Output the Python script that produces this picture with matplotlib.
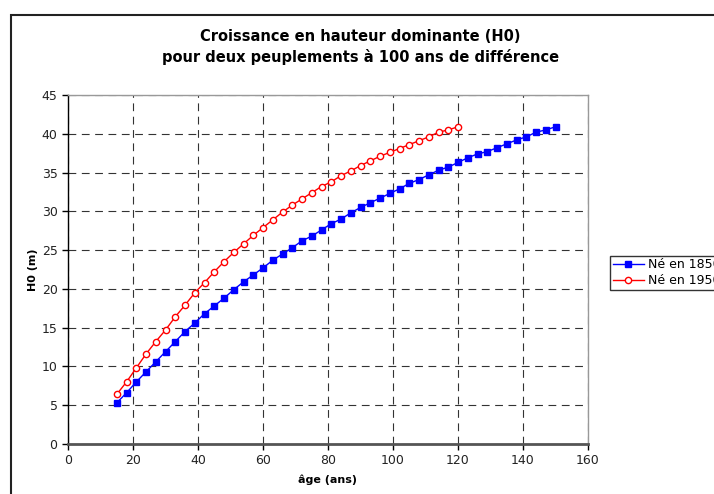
import matplotlib
matplotlib.use('Agg')
import matplotlib.pyplot as plt
from matplotlib.patches import Rectangle

# Ages (years) for each stand
ages_1850 = [15, 18, 21, 24, 27, 30, 33, 36, 39, 42, 45, 48, 51, 54, 57, 60,
             63, 66, 69, 72, 75, 78, 81, 84, 87, 90, 93, 96, 99, 102, 105, 108,
             111, 114, 117, 120, 123, 126, 129, 132, 135, 138, 141, 144, 147, 150]
ages_1950 = [15, 18, 21, 24, 27, 30, 33, 36, 39, 42, 45, 48, 51, 54, 57, 60,
             63, 66, 69, 72, 75, 78, 81, 84, 87, 90, 93, 96, 99, 102, 105, 108,
             111, 114, 117, 120]

# Dominant height H0 (m)
h0_1850 = [5.3, 6.6, 8.0, 9.3, 10.6, 11.9, 13.2, 14.5, 15.6, 16.8, 17.8, 18.8,
           19.9, 20.9, 21.8, 22.7, 23.7, 24.5, 25.3, 26.2, 26.8, 27.6, 28.4, 29.0,
           29.8, 30.5, 31.1, 31.7, 32.3, 32.9, 33.6, 34.1, 34.7, 35.3, 35.7, 36.3,
           36.9, 37.4, 37.7, 38.2, 38.7, 39.2, 39.6, 40.2, 40.5, 40.9]
h0_1950 = [6.4, 8.0, 9.8, 11.6, 13.2, 14.7, 16.4, 17.9, 19.5, 20.8, 22.2, 23.5,
           24.7, 25.8, 26.9, 27.9, 28.9, 29.9, 30.8, 31.6, 32.4, 33.2, 33.8, 34.6,
           35.2, 35.9, 36.5, 37.1, 37.6, 38.1, 38.6, 39.1, 39.6, 40.2, 40.5, 40.9]

labels = ['Né en 1850', 'Né en 1950']

fig = plt.figure(figsize=(7.14, 4.94), dpi=100)
ax = fig.add_axes([68 / 714, 50 / 494, 520 / 714, 349 / 494])

# outer chart frame (runs past the right/bottom edge of the picture)
fig.patches.append(Rectangle((11 / 714, -0.1), 1.0, (494 - 15) / 494 + 0.1,
                             transform=fig.transFigure, fill=False,
                             edgecolor='#222222', linewidth=1.5))

ax.plot(ages_1850, h0_1850, color='#0000FF', linewidth=1.0, marker='s',
        markersize=5, markerfacecolor='#0000FF', markeredgecolor='#0000FF',
        label=labels[0], zorder=3)
ax.plot(ages_1950, h0_1950, color='#FF0000', linewidth=1.0, marker='o',
        markersize=4.5, markerfacecolor='white', markeredgecolor='#FF0000',
        markeredgewidth=1.0, label=labels[1], zorder=3)

ax.set_xlim(0, 160)
ax.set_ylim(0, 45)
ax.set_xticks(range(0, 161, 20))
ax.set_yticks(range(0, 46, 5))

ax.grid(True, color='#333333', linestyle=(0, (7, 5)), linewidth=0.8)
ax.set_axisbelow(True)

for side in ['top', 'right']:
    ax.spines[side].set_color('#999999')
    ax.spines[side].set_linewidth(1.0)
ax.spines['left'].set_color('black')
ax.spines['left'].set_linewidth(1.0)
ax.spines['bottom'].set_color('#555555')
ax.spines['bottom'].set_linewidth(2.0)

ax.tick_params(direction='out', length=4, width=1, labelsize=9,
               labelcolor='#222222', color='black')

ax.set_xlabel('âge (ans)', fontsize=8, fontweight='bold', labelpad=5)
ax.set_ylabel('H0 (m)', fontsize=8, fontweight='bold', labelpad=3)

fig.text(0.505, 0.905, 'Croissance en hauteur dominante (H0)\n'
         'pour deux peuplements à 100 ans de différence',
         ha='center', va='center', fontsize=10.5, fontweight='bold',
         linespacing=1.4)

leg = ax.legend(loc='upper left', bbox_to_anchor=(610 / 714, (494 - 256) / 494),
                bbox_transform=fig.transFigure, fontsize=9, frameon=True,
                fancybox=False, borderpad=0.2, handlelength=2.5,
                handletextpad=0.3, labelspacing=0.2, borderaxespad=0)
leg.get_frame().set_edgecolor('black')
leg.get_frame().set_linewidth(1.0)

fig.savefig('out.png', dpi=100)
